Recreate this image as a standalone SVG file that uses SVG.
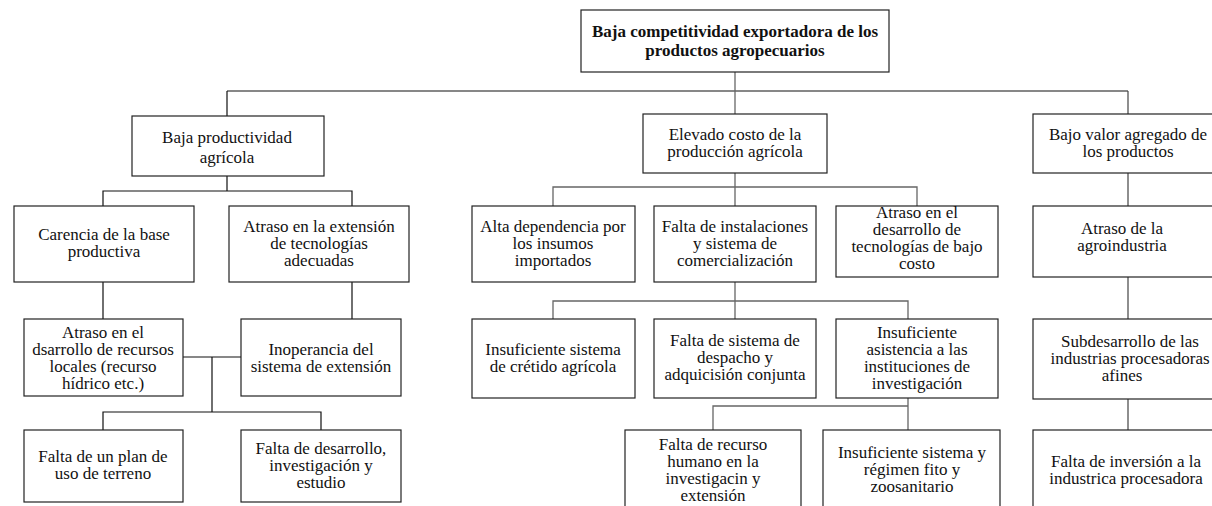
<svg xmlns="http://www.w3.org/2000/svg" width="1212" height="506" viewBox="0 0 1212 506">
<style>
rect{fill:#fff;stroke:#222;stroke-width:1.2}
text{font-family:'Liberation Serif',serif;font-size:17px;fill:#111;text-anchor:middle}
.b{font-weight:bold;font-size:17px}
.k{stroke:#111;stroke-width:1.2;fill:none}
.g{stroke:#666;stroke-width:1.3;fill:none}
.d{stroke:#444;stroke-width:1.2;fill:none}
</style>
<g id="connectors">
<path class="k" d="M227,91H1128M227,91V116"/>
<path class="g" d="M735,72V114"/>
<path class="d" d="M1128,91V114"/>
<path class="k" d="M227,176V191M103,206V191H352V206"/>
<path class="k" d="M103,282V319M352,282V319"/>
<path class="k" d="M183,357H241M212,357V412M103,430V412H321V430"/>
<path class="g" d="M735,173V206M553,206V187H917V206"/>
<path class="g" d="M735,282V319M553,319V301H908V319"/>
<path class="g" d="M908,398V430M713,430V406H908"/>
<path class="d" d="M1128,173V206M1128,277V319M1128,399V430"/>
</g>
<g id="n0"><rect x="581" y="10" width="308" height="62"/><text class="b" x="735" y="37">Baja competitividad exportadora de los</text><text class="b" x="735" y="56">productos agropecuarios</text></g>
<g id="n1"><rect x="132" y="116" width="192" height="60"/><text x="227" y="143">Baja productividad</text><text x="227" y="163">agrícola</text></g>
<g id="n2"><rect x="643" y="114" width="184" height="59"/><text x="735" y="140">Elevado costo de la</text><text x="735" y="157">producción agrícola</text></g>
<g id="n3"><rect x="1033" y="114" width="190" height="59"/><text x="1128" y="140">Bajo valor agregado de</text><text x="1128" y="157">los productos</text></g>
<g id="n4"><rect x="14" y="206" width="180" height="76"/><text x="104" y="240">Carencia de la base</text><text x="104" y="257">productiva</text></g>
<g id="n5"><rect x="229" y="206" width="180" height="76"/><text x="319" y="232">Atraso en la extensión</text><text x="319" y="249">de tecnologías</text><text x="319" y="266">adecuadas</text></g>
<g id="n6"><rect x="472" y="206" width="163" height="76"/><text x="553" y="232">Alta dependencia por</text><text x="553" y="249">los insumos</text><text x="553" y="266">importados</text></g>
<g id="n7"><rect x="654" y="206" width="162" height="76"/><text x="735" y="232">Falta de instalaciones</text><text x="735" y="249">y sistema de</text><text x="735" y="266">comercialización</text></g>
<g id="n8"><rect x="836" y="206" width="162" height="71"/><text x="917" y="218">Atraso en el</text><text x="917" y="235">desarrollo de</text><text x="917" y="252">tecnologías de bajo</text><text x="917" y="269">costo</text></g>
<g id="n9"><rect x="1033" y="206" width="190" height="71"/><text x="1122" y="234">Atraso de la</text><text x="1122" y="251">agroindustria</text></g>
<g id="n10"><rect x="24" y="319" width="159" height="77"/><text x="103" y="338">Atraso en el</text><text x="103" y="355">dsarrollo de recursos</text><text x="103" y="372">locales (recurso</text><text x="103" y="389">hídrico etc.)</text></g>
<g id="n11"><rect x="241" y="319" width="160" height="77"/><text x="321" y="355">Inoperancia del</text><text x="321" y="372">sistema de extensión</text></g>
<g id="n12"><rect x="472" y="319" width="163" height="79"/><text x="553" y="355">Insuficiente sistema</text><text x="553" y="372">de crétido agrícola</text></g>
<g id="n13"><rect x="654" y="319" width="162" height="79"/><text x="735" y="346">Falta de sistema de</text><text x="735" y="363">despacho y</text><text x="735" y="380">adquicisión conjunta</text></g>
<g id="n14"><rect x="836" y="319" width="162" height="79"/><text x="917" y="338">Insuficiente</text><text x="917" y="355">asistencia a las</text><text x="917" y="372">instituciones de</text><text x="917" y="389">investigación</text></g>
<g id="n15"><rect x="1033" y="319" width="190" height="80"/><text x="1130" y="347">Subdesarrollo de las</text><text x="1130" y="364">industrias procesadoras</text><text x="1122" y="381">afines</text></g>
<g id="n16"><rect x="24" y="430" width="159" height="72"/><text x="103" y="462">Falta de un plan de</text><text x="103" y="479">uso de terreno</text></g>
<g id="n17"><rect x="241" y="430" width="160" height="72"/><text x="321" y="454">Falta de desarrollo,</text><text x="321" y="471">investigación y</text><text x="321" y="488">estudio</text></g>
<g id="n18"><rect x="625" y="430" width="176" height="90"/><text x="713" y="450">Falta de recurso</text><text x="713" y="467">humano en la</text><text x="713" y="484">investigacin y</text><text x="713" y="501">extensión</text></g>
<g id="n19"><rect x="823" y="430" width="177" height="90"/><text x="912" y="458">Insuficiente sistema y</text><text x="912" y="475">régimen fito y</text><text x="912" y="492">zoosanitario</text></g>
<g id="n20"><rect x="1033" y="430" width="190" height="90"/><text x="1126" y="467">Falta de inversión a la</text><text x="1126" y="484">industrica procesadora</text></g>
</svg>
